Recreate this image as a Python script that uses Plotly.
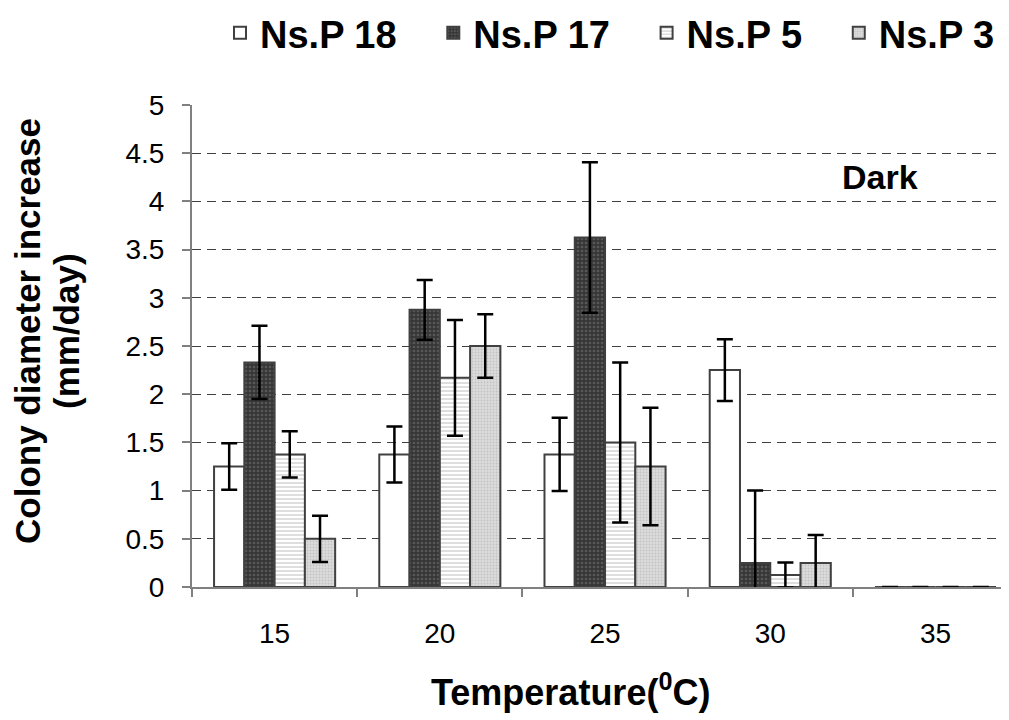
import plotly.graph_objects as go

categories = ["15", "20", "25", "30", "35"]
series_names = ["Ns.P 18", "Ns.P 17", "Ns.P 5", "Ns.P 3"]
ns_p18 = [1.25, 1.375, 1.375, 2.25, 0]
ns_p18_err = [0.24, 0.29, 0.38, 0.32, 0]
ns_p17 = [2.33, 2.875, 3.625, 0.25, 0]
ns_p17_err = [0.38, 0.31, 0.78, 0.75, 0]
ns_p5 = [1.375, 2.17, 1.5, 0.125, 0]
ns_p5_err = [0.24, 0.6, 0.83, 0.13, 0]
ns_p3 = [0.5, 2.5, 1.25, 0.25, 0]
ns_p3_err = [0.24, 0.33, 0.61, 0.29, 0]
y_ticks = [0, 0.5, 1, 1.5, 2, 2.5, 3, 3.5, 4, 4.5, 5]

FONT = "Liberation Sans, Arial, sans-serif"
OUTLINE = "#404040"
NBSP = "\u00a0"
# trailing non-breaking spaces only widen the gap between legend entries
legend_pad = [3, 3, 3, 0]

styles = [
    dict(pattern=dict(shape="", bgcolor="white", fgcolor="white"), color="white"),
    dict(pattern=dict(shape=".", bgcolor="#363636", fgcolor="#7a7a7a", size=4, solidity=0.35), color="#363636"),
    dict(pattern=dict(shape="-", bgcolor="white", fgcolor="#a0a0a0", size=4, solidity=0.35), color="white"),
    dict(pattern=dict(shape=".", bgcolor="#dcdcdc", fgcolor="#a8a8a8", size=3, solidity=0.3), color="#dcdcdc"),
]

values = [ns_p18, ns_p17, ns_p5, ns_p3]
errors = [ns_p18_err, ns_p17_err, ns_p5_err, ns_p3_err]

fig = go.Figure()
for name, vals, errs, st, pad in zip(series_names, values, errors, styles, legend_pad):
    fig.add_trace(go.Bar(
        x=categories, y=vals, name=name + NBSP * pad,
        marker=dict(color=st["color"], pattern=st["pattern"],
                    line=dict(color=OUTLINE, width=2)),
        error_y=dict(type="data", array=errs, visible=True,
                     color="black", thickness=2.5, width=8),
    ))

# page has an 8px body margin; plot area targets x 192..1009, y 105..587
PW = 817.0
PH = 482.0

fig.update_layout(
    width=1001, height=712,
    margin=dict(l=184, r=0, t=97, b=133, autoexpand=False),
    paper_bgcolor="white", plot_bgcolor="white",
    barmode="group", bargap=0.267, bargroupgap=0,
    font=dict(family=FONT, color="black"),
    showlegend=True,
    legend=dict(orientation="h", x=(220 - 192) / PW, xanchor="left",
                y=1 + (105 - 33) / PH, yanchor="middle",
                font=dict(size=38, family=FONT, weight="bold"),
                bgcolor="rgba(0,0,0,0)", traceorder="normal"),
    xaxis=dict(
        type="category", range=[-0.5, 4.445],
        showline=True, linecolor="#808080", linewidth=2,
        ticks="outside", tickson="boundaries", ticklen=8, tickcolor="#808080", tickwidth=2,
        tickfont=dict(size=28, family=FONT), ticklabelstandoff=20,
        showgrid=False, zeroline=False,
    ),
    yaxis=dict(
        range=[0, 5], tickvals=y_ticks,
        showline=True, linecolor="#808080", linewidth=2,
        ticks="outside", ticklen=8, tickcolor="#808080", tickwidth=2,
        tickfont=dict(size=28, family=FONT), ticklabelstandoff=12,
        showgrid=True, gridcolor="#404040", gridwidth=1, griddash="9px,6px",
        zeroline=False,
    ),
    annotations=[
        dict(text="<b>Colony diameter increase</b>", textangle=-90,
             xref="paper", yref="paper", x=(27 - 192) / PW, y=(587 - 331) / PH,
             xanchor="center", yanchor="middle", showarrow=False,
             font=dict(size=35, family=FONT)),
        dict(text="<b>(mm/day)</b>", textangle=-90,
             xref="paper", yref="paper", x=(66 - 192) / PW, y=(587 - 331) / PH,
             xanchor="center", yanchor="middle", showarrow=False,
             font=dict(size=35, family=FONT)),
        dict(text="<b>Temperature(<sup>0</sup>C)</b>",
             xref="paper", yref="paper", x=(570 - 192) / PW, y=(587 - 690) / PH,
             xanchor="center", yanchor="middle", showarrow=False,
             font=dict(size=36, family=FONT)),
        dict(text="<b>Dark</b>", xref="x", yref="y", x=3.665, y=4.25,
             xanchor="center", yanchor="middle", showarrow=False,
             font=dict(size=34, family=FONT)),
    ],
)

fig.write_html("out.html")
